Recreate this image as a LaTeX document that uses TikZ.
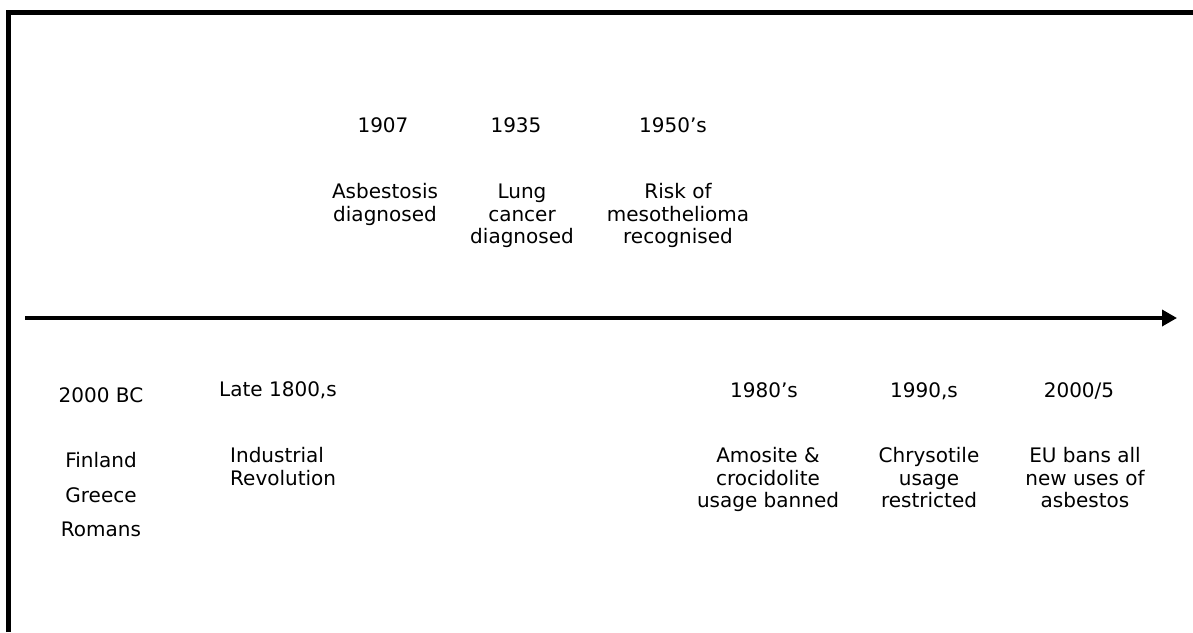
\documentclass[tikz,border=0pt]{standalone}
\usepackage{fontspec}
\setmainfont{DejaVu Sans}
\usetikzlibrary{arrows.meta}
\tikzset{
  lbl/.style={inner sep=0pt, anchor=base, align=center, font=\fontsize{20}{22.5}\selectfont},
  frameline/.style={line width=5pt, line join=miter, line cap=butt},
  axis/.style={line width=3.5pt, -{Triangle[length=15pt,width=16pt]}}
}
\begin{document}
\begin{tikzpicture}[x=1pt,y=-1pt]
\useasboundingbox (0,0) rectangle (1193,632);
% frame (left and top edges)
\coordinate (fbl) at (8.5,632);
\coordinate (ftl) at (8.5,12.5);
\coordinate (ftr) at (1193,12.5);
\draw[frameline] (fbl) -- (ftl) -- (ftr);
% time axis
\coordinate (astart) at (25,318);
\coordinate (aend) at (1177,318);
\draw[axis] (astart) -- (aend);
% above the axis (multi-line nodes are placed at the baseline of their last line)
\node[lbl] (y1907) at (383,132.6) {1907};
\node[lbl] (t1907) at (385,221.1) {Asbestosis\\diagnosed};
\node[lbl] (y1935) at (516,132.6) {1935};
\node[lbl] (t1935) at (522,243.6) {Lung\\cancer\\diagnosed};
\node[lbl] (y1950) at (673,132.6) {1950’s};
\node[lbl] (t1950) at (678,243.6) {Risk of\\mesothelioma\\recognised};
% below the axis
\node[lbl] (y2000bc) at (101,402.6) {2000 BC};
\node[lbl, font=\fontsize{20}{34.5}\selectfont] (t2000bc) at (101,536.6) {Finland\\Greece\\Romans};
\node[lbl] (y1800) at (278,396.6) {Late 1800,s};
\node[lbl, anchor=base west, align=left] (t1800) at (230,485.1) {Industrial\\Revolution};
\node[lbl] (y1980) at (764,397.6) {1980’s};
\node[lbl] (t1980) at (768,507.6) {Amosite \&\\crocidolite\\usage banned};
\node[lbl] (y1990) at (924,397.6) {1990,s};
\node[lbl] (t1990) at (929,507.6) {Chrysotile\\usage\\restricted};
\node[lbl] (y2005) at (1079,397.6) {2000/5};
\node[lbl] (t2005) at (1085,507.6) {EU bans all\\new uses of\\asbestos};
\end{tikzpicture}
\end{document}
